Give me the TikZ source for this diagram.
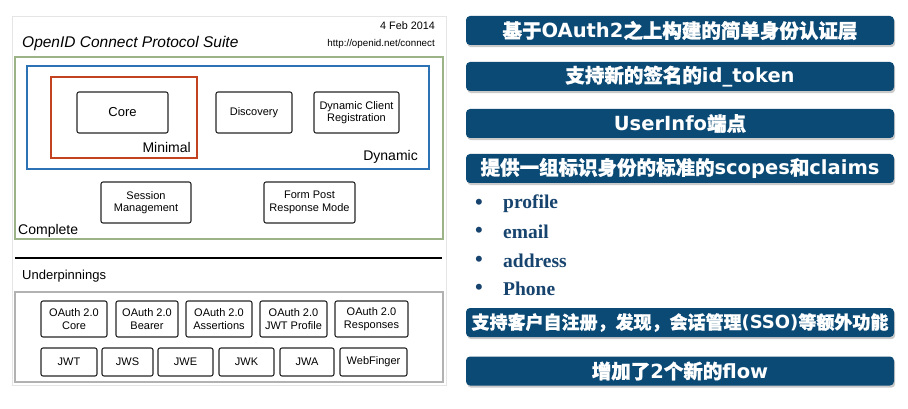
\documentclass[tikz,border=0pt]{standalone}
\usepackage{fontspec}
\setmainfont{Liberation Sans}
\newfontfamily\cjk{Noto Sans CJK SC}[BoldFeatures={FakeBold=1.2}]
\newfontfamily\latw{DejaVu Sans}
\newfontfamily\serifb{Liberation Serif}
\usetikzlibrary{shadows}
\definecolor{barblue}{HTML}{0B4A75}
\definecolor{listblue}{HTML}{17446E}
\definecolor{cgreen}{HTML}{9CB387}
\definecolor{dblue}{HTML}{2C72B5}
\definecolor{mred}{HTML}{C3421F}
\newcommand\lat[1]{{\latw\bfseries #1}}
\begin{document}
\begin{tikzpicture}[x=1pt,y=-1pt,
  specbox/.style={draw=black!85,line width=1.1pt,rounded corners=2pt,fill=white,
    align=center,inner sep=1pt,font=\fontsize{11}{12.5}\selectfont},
  groupbox/.style={draw,line width=1.6pt,inner sep=0pt},
  grouplabel/.style={font=\fontsize{14}{16}\selectfont,inner sep=0pt},
  featbar/.style={fill=barblue,rounded corners=4pt,minimum width=428pt,minimum height=29pt,
    inner sep=0pt,text=white,font=\fontsize{19.5}{22}\selectfont\cjk\bfseries,
    drop shadow={shadow xshift=1.2pt,shadow yshift=-2.2pt,opacity=0.35,fill=black!60}},
  claim/.style={anchor=west,inner sep=0pt,text=listblue,font=\fontsize{19.5}{21}\selectfont\serifb\bfseries},
  dot/.style={inner sep=0pt,text=listblue,font=\fontsize{22}{22}\selectfont\serifb\bfseries}
]
\useasboundingbox (0,0) rectangle (908,409);

% left panel frame
\draw[black!10,line width=1pt] (12,17) rectangle (446,385);

% heading
\node[anchor=west,inner sep=0pt,font=\fontsize{15.5}{17}\selectfont\itshape] (title) at (22,43) {OpenID Connect Protocol Suite};
\node[anchor=east,inner sep=0pt,font=\fontsize{10.8}{12}\selectfont] (date) at (435,26) {4 Feb 2014};
\node[anchor=east,inner sep=0pt,font=\fontsize{9.8}{11}\selectfont] (url) at (435,44) {http://openid.net/connect};

% nested groups
\node[groupbox,draw=cgreen,minimum width=428pt,minimum height=182pt] (complete) at (229,148) {};
\node[groupbox,draw=dblue,minimum width=402pt,minimum height=103pt] (dynamic) at (228,117.5) {};
\node[groupbox,draw=mred,minimum width=146pt,minimum height=81pt] (minimal) at (124,117.5) {};
\node[grouplabel,anchor=east] (minlab) at (191,147) {Minimal};
\node[grouplabel,anchor=east] (dynlab) at (418,157) {Dynamic};
\node[grouplabel,anchor=west] (complab) at (18,231) {Complete};

% specifications
\node[specbox,minimum width=91pt,minimum height=41pt,font=\fontsize{13}{15}\selectfont] (core) at (122.5,112.5) {Core};
\node[specbox,minimum width=76pt,minimum height=41pt] (disc) at (254,112.5) {Discovery};
\node[specbox,minimum width=85pt,minimum height=41pt] (dcr) at (356.5,112.5) {Dynamic Client\\Registration};
\node[specbox,minimum width=90pt,minimum height=41pt] (sess) at (146,202.5) {Session\\Management};
\node[specbox,minimum width=91pt,minimum height=41pt] (form) at (309.5,202.5) {Form Post\\Response Mode};

% underpinnings
\coordinate (sepl) at (15,258);
\coordinate (sepr) at (442,258);
\draw[black,line width=1.8pt] (sepl) -- (sepr);
\node[anchor=west,inner sep=0pt,font=\fontsize{13}{15}\selectfont] (underlab) at (22,276) {Underpinnings};
\node[draw=black!30,line width=1.6pt,minimum width=428pt,minimum height=90pt,inner sep=0pt] (under) at (229,337) {};

\node[specbox,minimum width=66pt,minimum height=36pt] (oacore) at (74,319) {OAuth 2.0\\Core};
\node[specbox,minimum width=62pt,minimum height=36pt] (oabear) at (147,319) {OAuth 2.0\\Bearer};
\node[specbox,minimum width=66pt,minimum height=36pt] (oaass) at (219,319) {OAuth 2.0\\Assertions};
\node[specbox,minimum width=67pt,minimum height=36pt] (oajwt) at (293.5,319) {OAuth 2.0\\JWT Profile};
\node[specbox,minimum width=73pt,minimum height=36pt] (oaresp) at (371.5,319) {OAuth 2.0\\Responses};

\node[specbox,minimum width=56pt,minimum height=28pt] (jwt) at (69,362) {JWT};
\node[specbox,minimum width=51pt,minimum height=28pt] (jws) at (127.5,362) {JWS};
\node[specbox,minimum width=55pt,minimum height=28pt] (jwe) at (185.5,362) {JWE};
\node[specbox,minimum width=55pt,minimum height=28pt] (jwk) at (246.5,362) {JWK};
\node[specbox,minimum width=54pt,minimum height=28pt] (jwa) at (307,362) {JWA};
\node[specbox,minimum width=67pt,minimum height=28pt] (webf) at (373.5,362) {WebFinger};

% feature bars
\node[featbar] (f1) at (680,30.5) {基于\lat{OAuth2}之上构建的简单身份认证层};
\node[featbar] (f2) at (680,76.5) {支持新的签名的\lat{id\_token}};
\node[featbar] (f3) at (680,123.5) {\lat{UserInfo}端点};
\node[featbar] (f4) at (680,168.5) {提供一组标识身份的标准的\lat{scopes}和\lat{claims}};
\node[featbar,font=\fontsize{18}{22}\selectfont\cjk\bfseries] (f5) at (680,322.5) {支持客户自注册，发现，会话管理\lat{(SSO)}等额外功能};
\node[featbar] (f6) at (680,371) {增加了\lat{2}个新的\lat{flow}};

% standard claims
\node[dot] (d1) at (479,204) {•};
\node[claim] (c1) at (503,204) {profile};
\node[dot] (d2) at (479,232) {•};
\node[claim] (c2) at (503,232) {email};
\node[dot] (d3) at (479,261) {•};
\node[claim] (c3) at (503,261) {address};
\node[dot] (d4) at (479,289) {•};
\node[claim] (c4) at (503,289) {Phone};
\end{tikzpicture}
\end{document}
